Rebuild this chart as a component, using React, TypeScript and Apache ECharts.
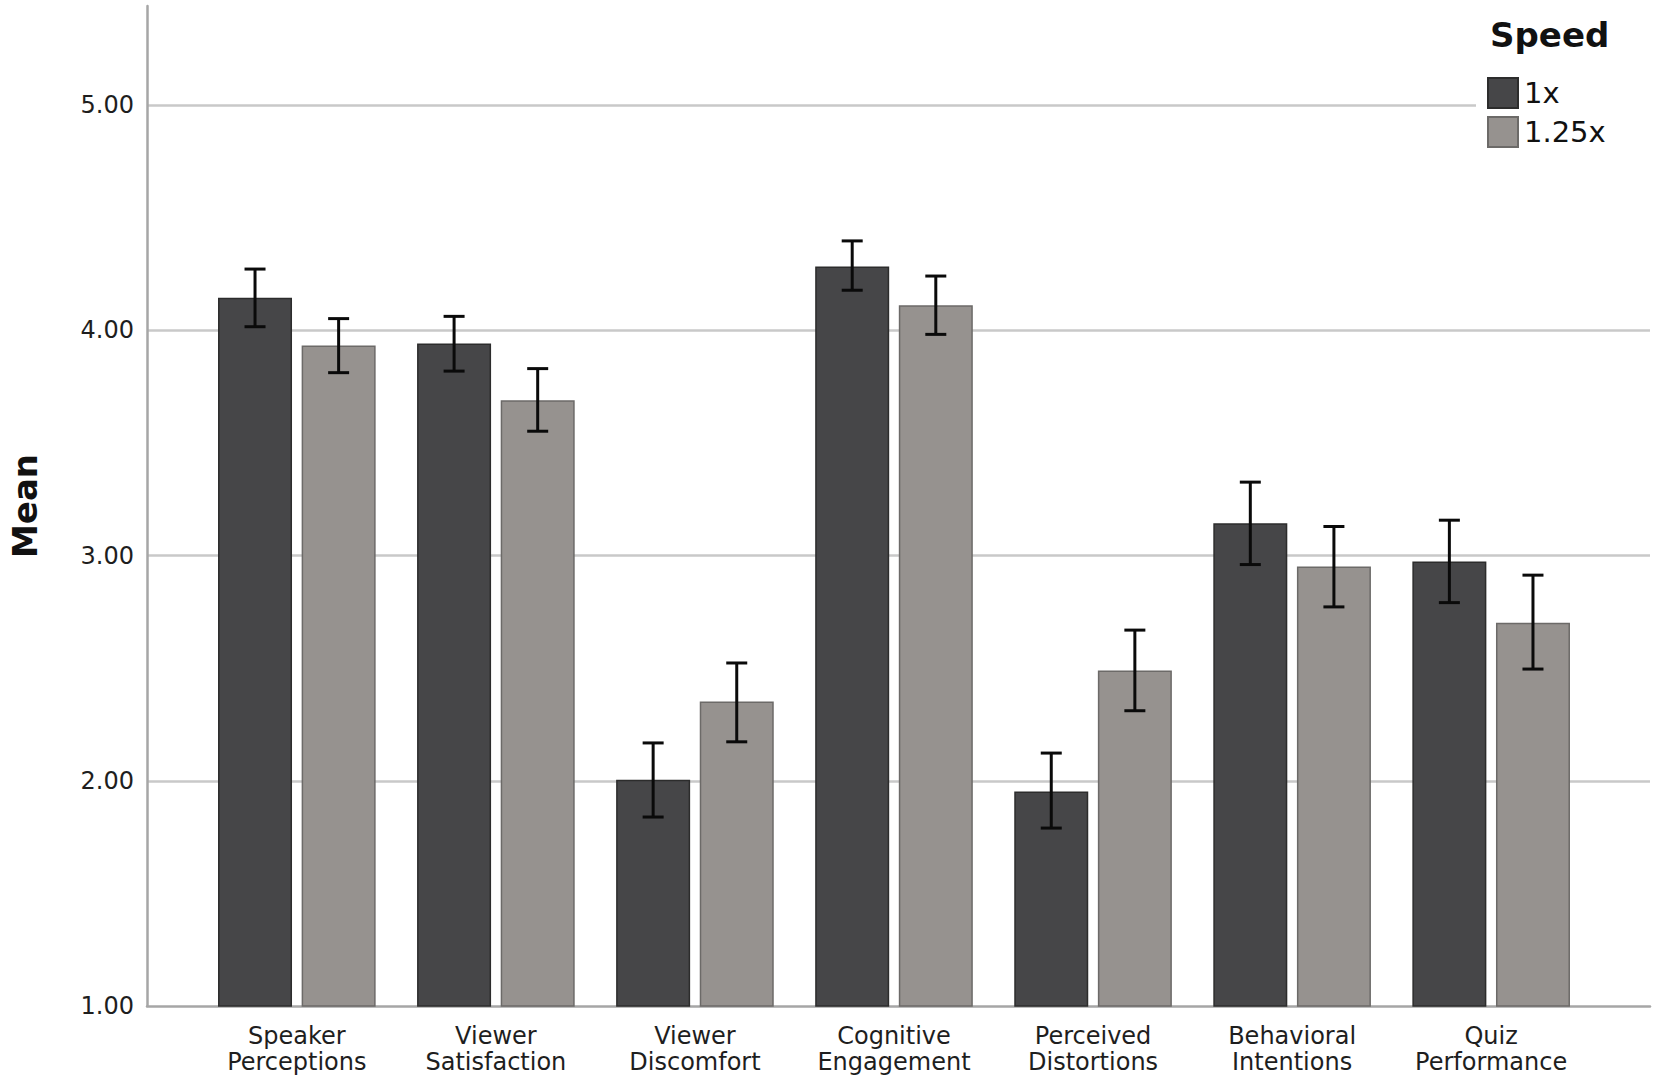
import React, { useEffect, useRef } from "react";
import * as echarts from "echarts";

const categories = [
  "Speaker\nPerceptions",
  "Viewer\nSatisfaction",
  "Viewer\nDiscomfort",
  "Cognitive\nEngagement",
  "Perceived\nDistortions",
  "Behavioral\nIntentions",
  "Quiz\nPerformance",
];
const seriesNames = ["1x", "1.25x"];
const mean1x = [4.145, 3.942, 2.004, 4.283, 1.952, 3.143, 2.974];
const low1x = [4.016, 3.819, 1.839, 4.178, 1.79, 2.96, 2.791];
const high1x = [4.272, 4.062, 2.168, 4.397, 2.123, 3.326, 3.157];
const mean125 = [3.933, 3.69, 2.352, 4.111, 2.49, 2.951, 2.702];
const low125 = [3.812, 3.552, 2.173, 3.982, 2.311, 2.772, 2.496];
const high125 = [4.052, 3.83, 2.523, 4.241, 2.669, 3.129, 2.913];
const yTicks = [1, 2, 3, 4, 5];
const yMin = 1;
const yMax = 5.44;

const BAR_W = 74;
const GAP = 9.6;
const OFFSET = (BAR_W + GAP) / 2;

export default function App() {
  const ref = useRef<HTMLDivElement>(null);
  useEffect(() => {
    if (!ref.current) return;
    const chart = echarts.init(ref.current, undefined, { renderer: "svg" });
    const errRender = (offset: number) => (params: any, api: any) => {
      const c = api.value(0);
      const lo = api.coord([c, api.value(1)]);
      const hi = api.coord([c, api.value(2)]);
      const x = lo[0] + offset;
      const cap = 10.5;
      const style = { stroke: "#0a0a0a", lineWidth: 3 };
      return {
        type: "group",
        children: [
          { type: "line", shape: { x1: x, y1: lo[1], x2: x, y2: hi[1] }, style },
          { type: "line", shape: { x1: x - cap, y1: lo[1], x2: x + cap, y2: lo[1] }, style },
          { type: "line", shape: { x1: x - cap, y1: hi[1], x2: x + cap, y2: hi[1] }, style },
        ],
      };
    };
    const option: any = {
      animation: false,
      backgroundColor: "#ffffff",
      textStyle: { fontFamily: "DejaVu Sans" },
      grid: [
        { left: 138, right: 4, top: 6, bottom: 78 },
        { left: 197.3, right: 63.3, top: 6, bottom: 78 },
      ],
      xAxis: [
        {
          gridIndex: 0,
          type: "category",
          data: [""],
          axisLine: { show: true, lineStyle: { color: "#a6a6a6", width: 2.5 } },
          axisTick: { show: false },
          axisLabel: { show: false },
        },
        {
          gridIndex: 1,
          type: "category",
          data: categories,
          axisLine: { show: false },
          axisTick: { show: false },
          axisLabel: {
            fontSize: 24,
            lineHeight: 26,
            color: "#1e1e1e",
            margin: 17,
            fontFamily: "DejaVu Sans",
          },
        },
      ],
      yAxis: [
        {
          gridIndex: 0,
          type: "value",
          min: yMin,
          max: yMax,
          interval: 1,
          name: "Mean",
          nameLocation: "middle",
          nameRotate: 90,
          nameGap: 105,
          nameTextStyle: { fontSize: 34, fontWeight: "bold", color: "#111", fontFamily: "DejaVu Sans" },
          axisLine: { show: true, lineStyle: { color: "#a6a6a6", width: 2.5 } },
          axisTick: { show: false },
          axisLabel: {
            fontSize: 24,
            color: "#1e1e1e",
            margin: 13,
            showMaxLabel: false,
            formatter: (v: number) => (yTicks.includes(v) ? v.toFixed(2) : ""),
          },
          splitLine: {
            show: true,
            showMinLine: false,
            showMaxLine: false,
            lineStyle: { color: "#c9c9c9", width: 2.5 },
          },
        },
        { gridIndex: 1, type: "value", min: yMin, max: yMax, show: false, splitLine: { show: false } },
      ],
      legend: {
        orient: "vertical",
        left: 1487,
        top: 77,
        itemWidth: 30,
        itemHeight: 30,
        itemGap: 7,
        padding: 0,
        icon: "rect",
        z: 20,
        data: seriesNames,
        textStyle: { fontSize: 29, color: "#111", padding: [0, 0, 0, 1], fontFamily: "DejaVu Sans" },
      },
      title: {
        text: "Speed",
        left: 1490,
        top: 18,
        padding: 0,
        z: 20,
        textStyle: { fontSize: 34, fontWeight: "bold", color: "#111", fontFamily: "DejaVu Sans" },
      },
      graphic: [
        {
          type: "rect",
          z: 10,
          shape: { x: 1476, y: 8, width: 178, height: 150 },
          style: { fill: "#ffffff" },
        },
      ],
      series: [
        {
          name: seriesNames[0],
          type: "bar",
          xAxisIndex: 1,
          yAxisIndex: 1,
          barWidth: BAR_W,
          barGap: "13%",
          data: mean1x,
          itemStyle: { color: "#464648", borderColor: "#2c2c2c", borderWidth: 1.5 },
        },
        {
          name: seriesNames[1],
          type: "bar",
          xAxisIndex: 1,
          yAxisIndex: 1,
          barWidth: BAR_W,
          barGap: "13%",
          data: mean125,
          itemStyle: { color: "#96928f", borderColor: "#6c6a68", borderWidth: 1.5 },
        },
        {
          type: "custom",
          xAxisIndex: 1,
          yAxisIndex: 1,
          renderItem: errRender(-OFFSET),
          data: categories.map((_, i) => [i, low1x[i], high1x[i]]),
          z: 5,
        },
        {
          type: "custom",
          xAxisIndex: 1,
          yAxisIndex: 1,
          renderItem: errRender(OFFSET),
          data: categories.map((_, i) => [i, low125[i], high125[i]]),
          z: 5,
        },
      ],
    };
    chart.setOption(option);
    return () => chart.dispose();
  }, []);
  return (
    <div
      ref={ref}
      style={{ position: "absolute", left: 0, top: 0, width: 1654, height: 1084 }}
    />
  );
}
